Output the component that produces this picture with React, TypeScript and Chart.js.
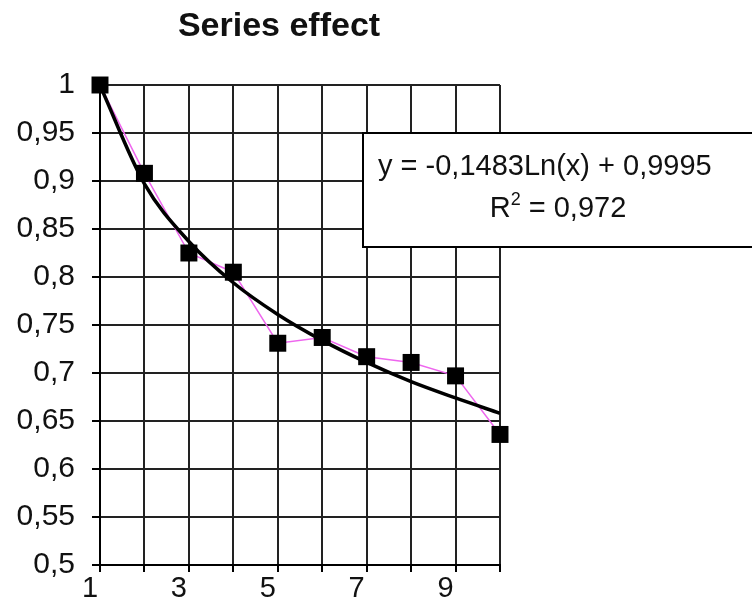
import React, { useEffect, useRef } from "react";
import { Chart, registerables } from "chart.js";

Chart.register(...registerables);

const xValues = [1, 2, 3, 4, 5, 6, 7, 8, 9, 10];
const seriesValues = [1.0, 0.908, 0.825, 0.805, 0.731, 0.737, 0.717, 0.711, 0.697, 0.636];
const trendValues = [0.9995, 0.897, 0.837, 0.794, 0.761, 0.734, 0.711, 0.691, 0.674, 0.658];
const titleText = "Series effect";
const equationText = "y = -0,1483Ln(x) + 0,9995";
const r2Label = "R";
const r2Sup = "2";
const r2Value = " = 0,972";
const xTickLabels = [1, 3, 5, 7, 9];

const FONT = "'Liberation Sans', Arial, sans-serif";

const overlayPlugin = {
  id: "overlay",
  afterDraw(chart: any) {
    const ctx = chart.ctx;
    ctx.save();
    // title
    ctx.fillStyle = "#111";
    ctx.font = `bold 34px ${FONT}`;
    ctx.textAlign = "center";
    ctx.textBaseline = "alphabetic";
    ctx.fillText(titleText, 279, 36);
    // equation box
    ctx.fillStyle = "#fff";
    ctx.fillRect(363, 133, 400, 114);
    ctx.strokeStyle = "#000";
    ctx.lineWidth = 2;
    ctx.strokeRect(363, 133, 400, 114);
    ctx.fillStyle = "#111";
    ctx.font = `29px ${FONT}`;
    ctx.textAlign = "left";
    ctx.fillText(equationText, 378, 175);
    // R² line
    const bigFont = `29px ${FONT}`;
    const smallFont = `18px ${FONT}`;
    ctx.font = bigFont;
    const wR = ctx.measureText(r2Label).width;
    const wV = ctx.measureText(r2Value).width;
    ctx.font = smallFont;
    const wS = ctx.measureText(r2Sup).width;
    const total = wR + wS + wV;
    let x = 558 - total / 2;
    ctx.font = bigFont;
    ctx.fillText(r2Label, x, 217);
    x += wR;
    ctx.font = smallFont;
    ctx.fillText(r2Sup, x, 205);
    x += wS;
    ctx.font = bigFont;
    ctx.fillText(r2Value, x, 217);
    ctx.restore();
  },
};

export default function App() {
  const canvasRef = useRef<HTMLCanvasElement | null>(null);

  useEffect(() => {
    document.body.style.margin = "0";
    const canvas = canvasRef.current;
    if (!canvas) return;
    const markers = xValues.map((x, i) => ({ x, y: seriesValues[i] }));
    const trend = xValues.map((x, i) => ({ x, y: trendValues[i] }));
    const chart = new Chart(canvas, {
      type: "line",
      data: {
        datasets: [
          {
            data: markers,
            showLine: false,
            clip: false,
            pointStyle: "rect",
            pointRadius: 12,
            pointBackgroundColor: "#000",
            pointBorderColor: "#000",
            pointBorderWidth: 0,
          },
          {
            data: trend,
            borderColor: "#000",
            borderWidth: 3.5,
            pointRadius: 0,
            tension: 0.4,
            cubicInterpolationMode: "monotone",
            fill: false,
          },
          {
            data: markers,
            borderColor: "#ee66ee",
            borderWidth: 1.5,
            pointRadius: 0,
            tension: 0,
            fill: false,
          },
        ],
      },
      options: {
        responsive: false,
        animation: false,
        events: [],
        layout: { padding: { left: 0, right: 252, top: 85, bottom: 0 } },
        plugins: {
          legend: { display: false },
          title: { display: false },
          tooltip: { enabled: false },
        },
        scales: {
          x: {
            type: "linear",
            min: 1,
            max: 10,
            afterFit(scale: any) {
              scale.height = 35;
            },
            afterBuildTicks(scale: any) {
              scale.ticks = xValues.map((v) => ({ value: v }));
            },
            ticks: {
              autoSkip: false,
              maxRotation: 0,
              padding: 0,
              labelOffset: -10,
              color: "#111",
              font: { family: FONT, size: 29 },
              callback: (v: any) => (xTickLabels.includes(Number(v)) ? String(v) : ""),
            },
            grid: { color: "#222", lineWidth: 2, tickLength: 7, tickColor: "#000" },
            border: { color: "#000", width: 2 },
          },
          y: {
            min: 0.5,
            max: 1,
            afterFit(scale: any) {
              scale.width = 100;
            },
            ticks: {
              stepSize: 0.05,
              padding: 17,
              color: "#111",
              font: { family: FONT, size: 30 },
              callback: (v: any) => String(Math.round(Number(v) * 100) / 100).replace(".", ","),
            },
            grid: { color: "#222", lineWidth: 2, tickLength: 8, tickColor: "#000" },
            border: { color: "#000", width: 2 },
          },
        },
      },
      plugins: [overlayPlugin],
    } as any);
    return () => chart.destroy();
  }, []);

  return (
    <div style={{ width: 752, height: 600, background: "#fff" }}>
      <canvas ref={canvasRef} width={752} height={600} />
    </div>
  );
}
